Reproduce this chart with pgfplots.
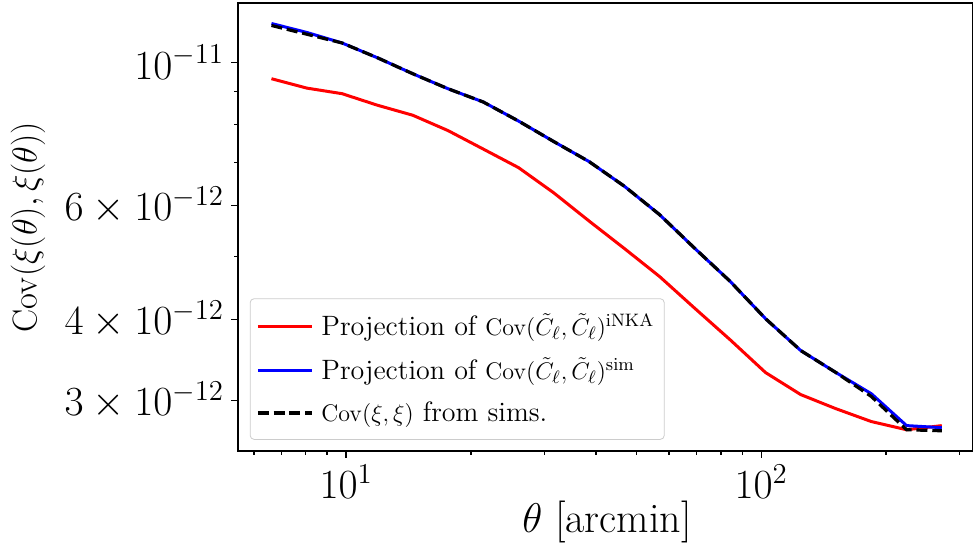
\documentclass[border=0pt]{standalone}
\usepackage{pgfplots}
\pgfplotsset{compat=1.18}
\begin{document}
\begin{tikzpicture}
\begin{axis}[
  name=ax,
  xmode=log, ymode=log,
  width=367.5pt, height=224pt, scale only axis,
  xmin=5.49, xmax=324, ymin=2.503, ymax=12.35,
  xtick={10,100}, xticklabels={$10^{1}$,$10^{2}$},
  minor xtick={6,7,8,9,20,30,40,50,60,70,80,90,200,300},
  ytick={3,4,6,10},
  yticklabels={$3\times10^{-12}$,$4\times10^{-12}$,$6\times10^{-12}$,$10^{-11}$},
  minor ytick={5,7,8,9},
  tick align=outside, tick pos=left,
  major tick length=3.5pt, minor tick length=2pt,
  every tick/.style={black, line width=0.6pt},
  axis line style={line width=0.7pt},
  tick label style={font=\fontsize{21}{25}\selectfont},
  xlabel={$\theta$ [arcmin]},
  ylabel={$\mathrm{Cov}(\xi(\theta),\xi(\theta))$},
  xlabel style={font=\fontsize{21}{25}\selectfont, at={(axis description cs:0.502,0)}, anchor=center, yshift=-35.5pt},
  ylabel style={font=\fontsize{18}{22}\selectfont, at={(axis description cs:-0.2857,0.5)}, anchor=center, rotate=0},
  legend style={at={(axis description cs:0.016,0.025)}, anchor=south west,
    draw=black!20, rounded corners=2pt, fill=white,
    font=\fontsize{14}{17}\selectfont, row sep=5.5pt, inner xsep=3pt, inner ysep=5.5pt},
  legend cell align=left,
  legend image code/.code={\draw[#1] (0pt,0pt) -- (27pt,0pt);},
]
\addplot[red, line width=1.5pt] coordinates {
(6.61,9.43)(8.04,9.12)(9.78,8.94)(11.90,8.58)(14.47,8.28)(17.60,7.84)(21.40,7.34)(26.03,6.87)(31.65,6.28)(38.50,5.68)(46.82,5.15)(56.94,4.66)(69.26,4.16)(84.23,3.72)(102.5,3.31)(124.6,3.06)(151.5,2.91)(184.3,2.78)(224.1,2.70)(272.5,2.74)
};
\addlegendentry{\hspace{2pt}Projection of {\fontsize{12.5}{15}\selectfont$\mathrm{Cov}(\tilde{C}_\ell,\tilde{C}_\ell)^{\mathrm{iNKA}}$}}
\addplot[blue, line width=1.5pt] coordinates {
(6.61,11.48)(8.04,11.12)(9.78,10.71)(11.90,10.16)(14.47,9.60)(17.60,9.10)(21.40,8.68)(26.03,8.11)(31.65,7.54)(38.50,7.02)(46.82,6.43)(56.94,5.81)(69.26,5.15)(84.23,4.58)(102.5,4.01)(124.6,3.58)(151.5,3.31)(184.3,3.07)(224.1,2.74)(272.5,2.72)
};
\addlegendentry{\hspace{2pt}Projection of {\fontsize{12.5}{15}\selectfont$\mathrm{Cov}(\tilde{C}_\ell,\tilde{C}_\ell)^{\mathrm{sim}}$}}
\addplot[black, line width=1.6pt, dash pattern=on 5.5pt off 2.4pt] coordinates {
(6.61,11.40)(8.04,11.05)(9.78,10.71)(11.90,10.16)(14.47,9.60)(17.60,9.10)(21.40,8.68)(26.03,8.11)(31.65,7.54)(38.50,7.02)(46.82,6.43)(56.94,5.81)(69.26,5.15)(84.23,4.58)(102.5,4.01)(124.6,3.58)(151.5,3.31)(184.3,3.04)(224.1,2.70)(272.5,2.69)
};
\addlegendentry{\hspace{2pt}{\fontsize{12.5}{15}\selectfont$\mathrm{Cov}(\xi,\xi)$} from sims.}
\end{axis}
\pgfresetboundingbox
\path[use as bounding box] ([xshift=-119pt,yshift=-50pt]ax.south west) rectangle ([yshift=1.5pt]ax.north east);
\end{tikzpicture}
\end{document}
